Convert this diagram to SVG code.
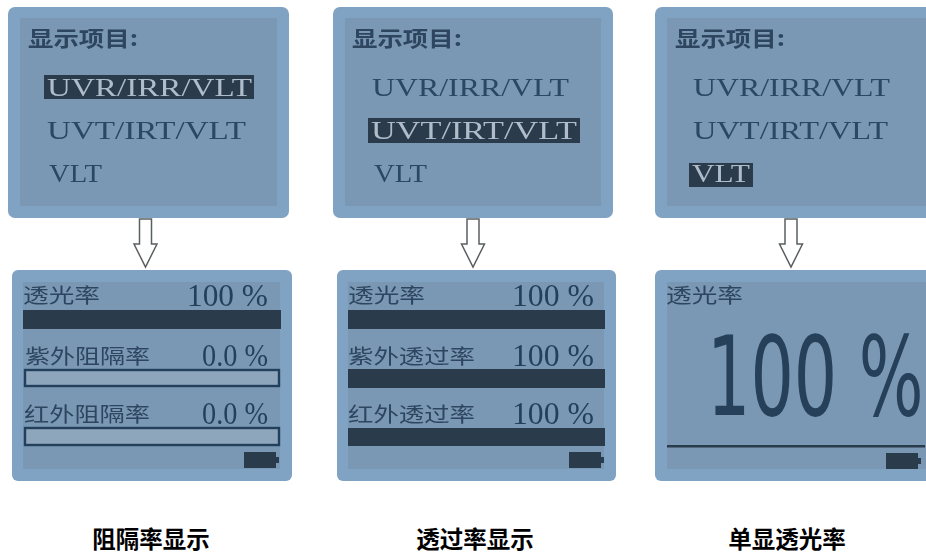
<svg xmlns="http://www.w3.org/2000/svg" width="926" height="554" viewBox="0 0 926 554">
<defs>
<filter id="soft" x="-5%" y="-5%" width="110%" height="110%"><feGaussianBlur stdDeviation="0.55"/></filter>
<g id="batt"><rect x="0" y="0" width="32" height="16" fill="#2b3a4c"/><rect x="32" y="5" width="3" height="6" fill="#2b3a4c"/></g>
<path id="arrow" d="M-6 0H6V25H11.5L0 48L-11.5 25H-6Z" fill="#fff" stroke="#5a5f63" stroke-width="1.5"/>
</defs>
<style>
.panel{fill:#80a3c3}
.screen{fill:#7a98b3}
.cn{font-family:"Noto Sans CJK SC",sans-serif;fill:#2d4560;font-size:20px}
.head{font-size:21px;font-weight:700}
.ser{font-family:"Liberation Serif",serif;fill:#2a4663;font-size:26px}
.sel{fill:#aebdc9}
.num{font-family:"Liberation Serif",serif;fill:#24405c;font-size:31px}
.bar{fill:#2b3a4c}
.empty{fill:#8ea6bc;stroke:#24405c;stroke-width:2.4}
.cap{font-family:"Noto Sans CJK SC",sans-serif;font-size:23.5px;font-weight:700;fill:#000;text-anchor:middle}
</style>
<rect width="926" height="554" fill="#fff"/>
<g id="connectors" filter="url(#soft)">
<use href="#arrow" x="145.500" y="219"/>
<use href="#arrow" x="473" y="219"/>
<use href="#arrow" x="791" y="219"/>
</g>
<g id="select-1" filter="url(#soft)">
<rect class="panel" x="8" y="7" width="281" height="211" rx="7"/>
<rect class="screen" x="20" y="18" width="257" height="188"/>
<text class="cn head" x="28" y="46" textLength="110" lengthAdjust="spacingAndGlyphs">显示项目:</text>
<rect class="bar" x="44" y="75" width="210" height="24"/>
<text class="ser sel" x="47" y="96" textLength="205" lengthAdjust="spacingAndGlyphs">UVR/IRR/VLT</text>
<text class="ser" x="47" y="139" textLength="199" lengthAdjust="spacingAndGlyphs">UVT/IRT/VLT</text>
<text class="ser" x="49" y="182" textLength="53" lengthAdjust="spacingAndGlyphs">VLT</text>
</g>
<g id="select-2" filter="url(#soft)">
<rect class="panel" x="333" y="7" width="280" height="211" rx="7"/>
<rect class="screen" x="345" y="18" width="256" height="188"/>
<text class="cn head" x="352" y="46" textLength="110" lengthAdjust="spacingAndGlyphs">显示项目:</text>
<text class="ser" x="372" y="96" textLength="197" lengthAdjust="spacingAndGlyphs">UVR/IRR/VLT</text>
<rect class="bar" x="368" y="118" width="212" height="25"/>
<text class="ser sel" x="371" y="139" textLength="206" lengthAdjust="spacingAndGlyphs">UVT/IRT/VLT</text>
<text class="ser" x="374" y="182" textLength="53" lengthAdjust="spacingAndGlyphs">VLT</text>
</g>
<g id="select-3" filter="url(#soft)">
<rect class="panel" x="655" y="7" width="280" height="211" rx="7"/>
<rect class="screen" x="667" y="18" width="259" height="188"/>
<text class="cn head" x="675" y="46" textLength="110" lengthAdjust="spacingAndGlyphs">显示项目:</text>
<text class="ser" x="693" y="96" textLength="197" lengthAdjust="spacingAndGlyphs">UVR/IRR/VLT</text>
<text class="ser" x="693" y="139" textLength="195" lengthAdjust="spacingAndGlyphs">UVT/IRT/VLT</text>
<rect class="bar" x="689" y="163" width="64" height="24"/>
<text class="ser sel" x="692" y="182" textLength="58" lengthAdjust="spacingAndGlyphs">VLT</text>
</g>
<g id="result-1" filter="url(#soft)">
<rect class="panel" x="12" y="270" width="280" height="211" rx="6"/>
<rect class="screen" x="23" y="282" width="257" height="187"/>
<text class="cn" x="23" y="303" textLength="77" lengthAdjust="spacingAndGlyphs">透光率</text>
<text class="num" x="187" y="306" textLength="81" lengthAdjust="spacingAndGlyphs">100 %</text>
<rect class="bar" x="23" y="310" width="258" height="19"/>
<text class="cn" x="25" y="364" textLength="125" lengthAdjust="spacingAndGlyphs">紫外阻隔率</text>
<text class="num" x="202" y="366" textLength="66" lengthAdjust="spacingAndGlyphs">0.0 %</text>
<rect class="empty" x="25" y="370" width="254" height="16"/>
<text class="cn" x="24" y="422" textLength="126" lengthAdjust="spacingAndGlyphs">红外阻隔率</text>
<text class="num" x="202" y="424" textLength="66" lengthAdjust="spacingAndGlyphs">0.0 %</text>
<rect class="empty" x="25" y="428" width="254" height="17"/>
<use href="#batt" x="244" y="452"/>
</g>
<g id="result-2" filter="url(#soft)">
<rect class="panel" x="337" y="270" width="279" height="211" rx="6"/>
<rect class="screen" x="348" y="282" width="256" height="187"/>
<text class="cn" x="348" y="303" textLength="77" lengthAdjust="spacingAndGlyphs">透光率</text>
<text class="num" x="512" y="306" textLength="82" lengthAdjust="spacingAndGlyphs">100 %</text>
<rect class="bar" x="348" y="310" width="257" height="19"/>
<text class="cn" x="348" y="364" textLength="127" lengthAdjust="spacingAndGlyphs">紫外透过率</text>
<text class="num" x="512" y="366" textLength="82" lengthAdjust="spacingAndGlyphs">100 %</text>
<rect class="bar" x="348" y="369" width="257" height="19"/>
<text class="cn" x="348" y="422" textLength="127" lengthAdjust="spacingAndGlyphs">红外透过率</text>
<text class="num" x="512" y="424" textLength="82" lengthAdjust="spacingAndGlyphs">100 %</text>
<rect class="bar" x="348" y="428" width="257" height="18"/>
<use href="#batt" x="569" y="452"/>
</g>
<g id="result-3" filter="url(#soft)">
<rect class="panel" x="655" y="270" width="280" height="211" rx="6"/>
<rect class="screen" x="667" y="282" width="259" height="187"/>
<text class="cn" x="666" y="303" textLength="77" lengthAdjust="spacingAndGlyphs">透光率</text>
<text transform="translate(707 415) scale(.62 1)" style="font-family:'DejaVu Sans',sans-serif;font-size:110px;fill:#253f5a">100 %</text>
<rect class="bar" x="667" y="445" width="258" height="2.500"/>
<use href="#batt" x="886" y="453"/>
</g>
<g id="captions">
<text class="cap" x="151" y="548">阻隔率显示</text>
<text class="cap" x="475" y="548">透过率显示</text>
<text class="cap" x="787" y="548">单显透光率</text>
</g>
</svg>
